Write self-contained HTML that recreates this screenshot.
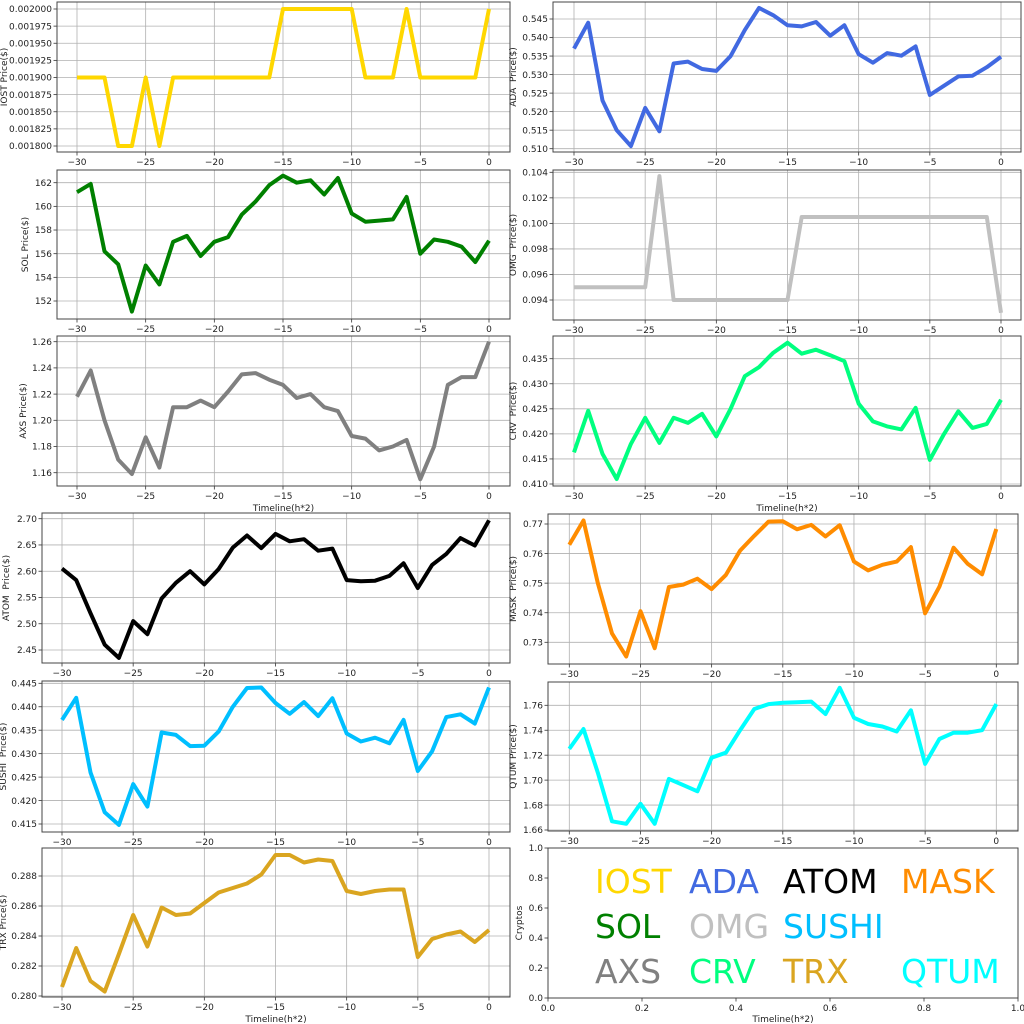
<!DOCTYPE html>
<html><head><meta charset="utf-8"><style>
html,body{margin:0;padding:0;background:#fff;}
svg{display:block;font-family:"DejaVu Sans","Liberation Sans",sans-serif;}
</style></head><body>
<svg id="s" width="1024" height="1024" viewBox="0 0 1024 1024" xmlns="http://www.w3.org/2000/svg"></svg>
<script>
const S=document.getElementById('s');let h='';
function fmt(v,d){let t=v.toFixed(d);return t.replace('-','\u2212');}
function panel(o){
 const {bx0,bx1,by0,by1,x30,x0,ya,va,yb,vb,ticks,dec,data,color,ylab,ylx,xlab,lw}=o;
 const X=v=>x30+(v+30)*(x0-x30)/30, Y=v=>ya+(v-va)*(yb-ya)/(vb-va);
 h+=`<rect x="${bx0}" y="${by0}" width="${bx1-bx0}" height="${by1-by0}" fill="#fff"/>`;
 for(let t=-30;t<=0;t+=5){const x=X(t);h+=`<line x1="${x}" y1="${by0}" x2="${x}" y2="${by1}" stroke="#b0b0b0" stroke-width="0.8"/><line x1="${x}" y1="${by1}" x2="${x}" y2="${by1+3.5}" stroke="#333" stroke-width="0.8"/><text x="${x}" y="${by1+13}" font-size="9" text-anchor="middle" fill="#222">${fmt(t,0)}</text>`;}
 ticks.forEach(v=>{const y=Y(v);h+=`<line x1="${bx0}" y1="${y}" x2="${bx1}" y2="${y}" stroke="#b0b0b0" stroke-width="0.8"/><line x1="${bx0-3.5}" y1="${y}" x2="${bx0}" y2="${y}" stroke="#333" stroke-width="0.8"/><text x="${bx0-5}" y="${y+3.2}" font-size="9" text-anchor="end" fill="#222">${v.toFixed(dec)}</text>`;});
 const pts=data.map((v,i)=>X(i-30).toFixed(1)+','+Y(v).toFixed(1)).join(' ');
 h+=`<polyline points="${pts}" fill="none" stroke="${color}" stroke-width="${lw||4}" stroke-linejoin="round"/>`;
 h+=`<rect x="${bx0}" y="${by0}" width="${bx1-bx0}" height="${by1-by0}" fill="none" stroke="#444" stroke-width="1"/>`;
 const cy=(by0+by1)/2;h+=`<text x="${ylx}" y="${cy}" font-size="9" text-anchor="middle" fill="#222" transform="rotate(-90 ${ylx} ${cy})" xml:space="preserve">${ylab}</text>`;
 if(xlab)h+=`<text x="${(bx0+bx1)/2}" y="${by1+25}" font-size="9" text-anchor="middle" fill="#222">Timeline(h*2)</text>`;
}
function rng(a,b,s){const r=[];for(let v=a;v<=b+s/1000;v+=s)r.push(+v.toFixed(6));return r;}
const L={bx0:57,bx1:510,x30:77,x0:489}, R={bx0:553,bx1:1021,x30:574,x0:1001};
const iost=[];for(let i=-30;i<=0;i++){let v=.0019;if(i==-27||i==-26||i==-24)v=.0018;if((i>=-15&&i<=-10)||i==-6||i==0)v=.002;iost.push(v);}
panel({...L,by0:2,by1:152,ya:9,va:.002,yb:146,vb:.0018,ticks:rng(.0018,.002,.000025),dec:6,data:iost,color:'#ffd700',ylab:'IOST Price($)',ylx:7});
panel({...L,by0:170,by1:319,ya:182.7,va:162,yb:301,vb:152,ticks:rng(152,162,2),dec:0,color:'#008000',ylab:'SOL Price($)',ylx:28,
 data:[161.2,161.9,156.2,155.1,151.1,155.0,153.4,157.0,157.5,155.8,157.0,157.4,159.3,160.4,161.8,162.6,162.0,162.2,161.0,162.4,159.4,158.7,158.8,158.9,160.8,156.0,157.2,157.0,156.6,155.3,157.1]});
panel({...L,by0:336,by1:486,ya:341.7,va:1.26,yb:472.7,vb:1.16,ticks:rng(1.16,1.26,.02),dec:2,color:'#808080',ylab:'AXS Price($)',ylx:26,xlab:1,
 data:[1.218,1.238,1.20,1.170,1.159,1.187,1.164,1.210,1.210,1.215,1.210,1.222,1.235,1.236,1.231,1.227,1.217,1.220,1.210,1.207,1.188,1.186,1.177,1.180,1.185,1.155,1.180,1.227,1.233,1.233,1.260]});
panel({...R,by0:2,by1:152,ya:19,va:.545,yb:148.7,vb:.510,ticks:rng(.510,.545,.005),dec:3,color:'#4169e1',ylab:'ADA  Price($)',ylx:516,
 data:[.537,.544,.523,.515,.5107,.521,.5147,.533,.5335,.5315,.531,.535,.542,.548,.546,.5433,.543,.5442,.5405,.5433,.5355,.5332,.5358,.5351,.5376,.5245,.527,.5295,.5297,.532,.5348]});
const omg=[];for(let i=-30;i<=0;i++){let v=.094;if(i<=-25)v=.095;if(i==-24)v=.1037;if(i>=-14&&i<=-1)v=.1005;if(i==0)v=.093;omg.push(v);}
panel({...R,by0:170,by1:320,ya:172.3,va:.104,yb:300,vb:.094,ticks:rng(.094,.104,.002),dec:3,color:'#c0c0c0',ylab:'OMG  Price($)',ylx:516,data:omg});
panel({...R,by0:336,by1:486,ya:358.7,va:.435,yb:484,vb:.410,ticks:rng(.410,.435,.005),dec:3,color:'#00ff7f',ylab:'CRV  Price($)',ylx:516,xlab:1,
 data:[.4163,.4246,.416,.411,.418,.4232,.4182,.4232,.4222,.424,.4195,.425,.4315,.4333,.4362,.4382,.436,.4368,.4357,.4345,.426,.4225,.4215,.4209,.4252,.4148,.420,.4245,.4212,.422,.4268]});
const BL={bx0:42,bx1:510,x30:62,x0:489}, BR={bx0:548,bx1:1018,x30:569.3,x0:996.3};
panel({...BL,by0:513,by1:663,ya:518.7,va:2.70,yb:650,vb:2.45,ticks:rng(2.45,2.70,.05),dec:2,color:'#000',ylab:'ATOM  Price($)',ylx:9,
 data:[2.605,2.583,2.52,2.46,2.435,2.505,2.48,2.548,2.578,2.60,2.575,2.604,2.645,2.668,2.644,2.671,2.657,2.661,2.639,2.643,2.583,2.581,2.582,2.591,2.615,2.568,2.612,2.633,2.663,2.649,2.697]});
panel({...BL,by0:681,by1:832,ya:683.3,va:.445,yb:824,vb:.415,ticks:rng(.415,.445,.005),dec:3,color:'#00bfff',ylab:'SUSHI  Price($)',ylx:6,
 data:[.4372,.4419,.426,.4175,.4148,.4235,.4187,.4345,.434,.4316,.4317,.4347,.440,.444,.4441,.4408,.4385,.441,.438,.4418,.4343,.4326,.4334,.4322,.4372,.4263,.4305,.4378,.4384,.4364,.4441]});
panel({...BL,by0:848,by1:997,ya:876,va:.288,yb:996,vb:.280,ticks:rng(.280,.288,.002),dec:3,color:'#daa520',ylab:'TRX Price($)',ylx:6,xlab:1,
 data:[.2806,.2832,.281,.2803,.2828,.2854,.2833,.2859,.2854,.2855,.2862,.2869,.2872,.2875,.2881,.2894,.2894,.2889,.2891,.289,.287,.2868,.287,.2871,.2871,.2826,.2838,.2841,.2843,.2836,.2844]});
panel({...BR,by0:514,by1:664,ya:524,va:.77,yb:642.3,vb:.73,ticks:rng(.73,.77,.01),dec:2,color:'#ff8c00',ylab:'MASK  Price($)',ylx:516,
 data:[.763,.7712,.750,.733,.7252,.7405,.728,.7487,.7495,.7515,.748,.7528,.761,.766,.7708,.7709,.7682,.7697,.7658,.7696,.7573,.7543,.7562,.7573,.7622,.7398,.7488,.762,.7565,.753,.7683]});
panel({...BR,by0:682,by1:831,ya:705.3,va:1.76,yb:830,vb:1.66,ticks:rng(1.66,1.76,.02),dec:2,color:'#00ffff',ylab:'QTUM Price($)',ylx:516,
 data:[1.725,1.741,1.706,1.667,1.665,1.681,1.665,1.701,1.696,1.691,1.718,1.722,1.740,1.757,1.761,1.762,1.7625,1.763,1.753,1.774,1.750,1.745,1.743,1.739,1.756,1.713,1.733,1.738,1.738,1.740,1.761]});
{const x0=548,x1=1018,y0=848,y1=998;
 h+=`<rect x="${x0}" y="${y0}" width="${x1-x0}" height="${y1-y0}" fill="#fff" stroke="#444" stroke-width="1"/>`;
 for(let i=0;i<=5;i++){const v=i/5,x=x0+v*(x1-x0),y=y1-v*(y1-y0);
  h+=`<line x1="${x}" y1="${y1}" x2="${x}" y2="${y1+3.5}" stroke="#333" stroke-width="0.8"/><text x="${x}" y="${y1+13}" font-size="9" text-anchor="middle" fill="#222">${v.toFixed(1)}</text>`;
  h+=`<line x1="${x0-3.5}" y1="${y}" x2="${x0}" y2="${y}" stroke="#333" stroke-width="0.8"/><text x="${x0-5}" y="${y+3.2}" font-size="9" text-anchor="end" fill="#222">${v.toFixed(1)}</text>`;}
 h+=`<text x="${(x0+x1)/2}" y="${y1+24}" font-size="9" text-anchor="middle" fill="#222">Timeline(h*2)</text>`;
 h+=`<text x="522" y="${(y0+y1)/2}" font-size="9" text-anchor="middle" fill="#222" transform="rotate(-90 522 ${(y0+y1)/2})">Cryptos</text>`;
 const items=[['IOST','#ffd700',595,893],['ADA','#4169e1',689,893],['ATOM','#000',783,893],['MASK','#ff8c00',901,893],
 ['SOL','#008000',595,938],['OMG','#c0c0c0',689,938],['SUSHI','#00bfff',783,938],
 ['AXS','#808080',595,983],['CRV','#00ff7f',689,983],['TRX','#daa520',783,983],['QTUM','#00ffff',901,983]];
 items.forEach(([t,c,x,y])=>{h+=`<text x="${x}" y="${y}" font-size="33" fill="${c}">${t}</text>`;});
}
S.innerHTML=h;
</script>
</body></html>
